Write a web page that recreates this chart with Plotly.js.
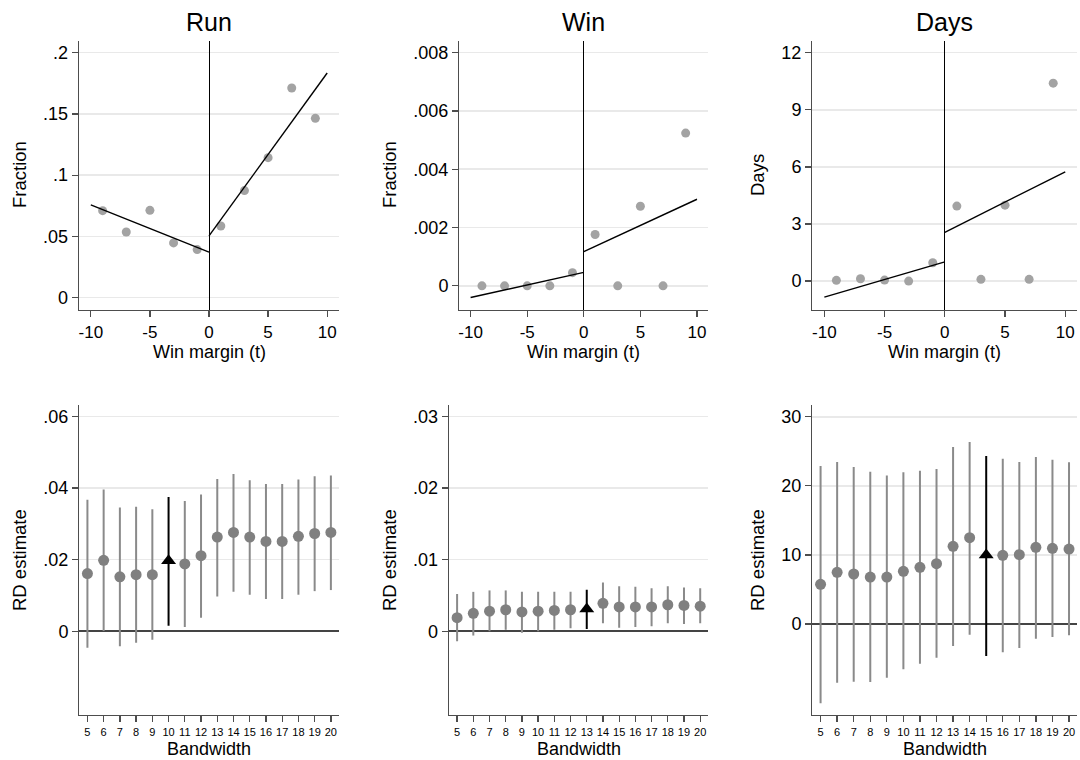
<!DOCTYPE html>
<html><head><meta charset="utf-8">
<script src="https://cdn.plot.ly/plotly-3.0.1.min.js"></script>
<style>html,body{margin:0;padding:0;background:#fff}#chart{width:1080px;height:760px}</style>
</head><body><div id="chart"></div>
<script>
// ---------- Top row: binned means by win margin ----------
const binX = [-9, -7, -5, -3, -1, 1, 3, 5, 7, 9];
const runBin  = [0.0710, 0.0536, 0.0713, 0.0447, 0.0392, 0.0585, 0.0874, 0.1143, 0.1712, 0.1464];
const winBin  = [0, 0, 0, 0, 0.00045, 0.00176, 0, 0.00273, 0, 0.00524];
const daysBin = [0.04, 0.12, 0.05, 0.0, 0.96, 3.94, 0.09, 3.99, 0.09, 10.40];

const fitLeftX  = [-10, 0];
const fitRightX = [0, 10];
const runFitLeft   = [0.0757, 0.0371];
const runFitRight  = [0.0504, 0.1834];
const winFitLeft   = [-0.00040, 0.00046];
const winFitRight  = [0.00117, 0.00297];
const daysFitLeft  = [-0.84, 1.01];
const daysFitRight = [2.56, 5.74];

const marginTicks = [-10, -5, 0, 5, 10];
const marginTickText = ['-10', '-5', '0', '5', '10'];
const runTicks = [0, 0.05, 0.1, 0.15, 0.2];
const runTickText = ['0', '.05', '.1', '.15', '.2'];
const winTicks = [0, 0.002, 0.004, 0.006, 0.008];
const winTickText = ['0', '.002', '.004', '.006', '.008'];
const daysTicks = [0, 3, 6, 9, 12];
const daysTickText = ['0', '3', '6', '9', '12'];

// ---------- Bottom row: RD estimates by bandwidth ----------
const bandwidth = [5, 6, 7, 8, 9, 10, 11, 12, 13, 14, 15, 16, 17, 18, 19, 20];
const runEst = [0.0161, 0.0198, 0.0152, 0.0158, 0.0158, 0.0197, 0.0188, 0.0211, 0.0263, 0.0276, 0.0263, 0.0251, 0.0251, 0.0265, 0.0273, 0.0276];
const runHi  = [0.0367, 0.0396, 0.0346, 0.0348, 0.0341, 0.0375, 0.0364, 0.0382, 0.0425, 0.0439, 0.0422, 0.0411, 0.0411, 0.0424, 0.0433, 0.0435];
const runLo  = [-0.0046, 0.0001, -0.0042, -0.0032, -0.0024, 0.0015, 0.0012, 0.0038, 0.0097, 0.0110, 0.0102, 0.0090, 0.0090, 0.0102, 0.0112, 0.0115];
const runOptimal = 10;

const winEst = [0.0019, 0.0025, 0.0028, 0.0030, 0.0027, 0.0028, 0.0029, 0.0030, 0.0031, 0.0039, 0.0034, 0.0034, 0.0034, 0.0037, 0.0036, 0.0035];
const winHi  = [0.0052, 0.0055, 0.0057, 0.0057, 0.0055, 0.0055, 0.0055, 0.0055, 0.0058, 0.0068, 0.0063, 0.0062, 0.0060, 0.0063, 0.0061, 0.0060];
const winLo  = [-0.0014, -0.0006, 0.0000, 0.0002, -0.0002, 0.0000, 0.0002, 0.0004, 0.0003, 0.0011, 0.0005, 0.0006, 0.0007, 0.0011, 0.0010, 0.0011];
const winOptimal = 13;

const daysEst = [5.74, 7.48, 7.24, 6.80, 6.80, 7.62, 8.20, 8.73, 11.24, 12.49, 10.0, 9.94, 10.03, 11.10, 10.95, 10.85];
const daysHi  = [22.87, 23.44, 22.72, 22.05, 21.51, 21.95, 22.19, 22.43, 25.62, 26.34, 24.31, 23.93, 23.44, 24.17, 23.78, 23.40];
const daysLo  = [-11.48, -8.49, -8.35, -8.39, -7.77, -6.56, -5.74, -4.87, -3.18, -1.54, -4.63, -4.10, -3.47, -2.12, -1.88, -1.64];
const daysOptimal = 15;

const runRdTicks = [0, 0.02, 0.04, 0.06];
const runRdTickText = ['0', '.02', '.04', '.06'];
const winRdTicks = [0, 0.01, 0.02, 0.03];
const winRdTickText = ['0', '.01', '.02', '.03'];
const daysRdTicks = [0, 10, 20, 30];
const daysRdTickText = ['0', '10', '20', '30'];

// ---------- styling ----------
const FONT = 'Liberation Sans, Arial, sans-serif';
const AXIS_COLOR = '#4d4d4d';
const GRID_COLOR = '#e9e9e9';
const BIN_COLOR = '#a3a3a3';
const EST_COLOR = '#808080';
const CI_COLOR = '#8a8a8a';

const traces = [];

function topPanel(ax, yv, fl, fr) {
  const xa = 'x' + ax, ya = 'y' + ax;
  traces.push({x: binX, y: yv, xaxis: xa, yaxis: ya, type: 'scatter', mode: 'markers',
    marker: {color: BIN_COLOR, size: 9}, showlegend: false, hoverinfo: 'x+y'});
  traces.push({x: fitLeftX, y: fl, xaxis: xa, yaxis: ya, type: 'scatter', mode: 'lines',
    line: {color: '#000', width: 1.4}, showlegend: false});
  traces.push({x: fitRightX, y: fr, xaxis: xa, yaxis: ya, type: 'scatter', mode: 'lines',
    line: {color: '#000', width: 1.4}, showlegend: false});
}
function bottomPanel(ax, est, lo, hi, opt) {
  const xa = 'x' + ax, ya = 'y' + ax;
  const gx = [], gy = [], gp = [], gm = [];
  const ox = [], oy = [], op = [], om = [];
  bandwidth.forEach((b, i) => {
    if (b === opt) { ox.push(b); oy.push(est[i]); op.push(hi[i] - est[i]); om.push(est[i] - lo[i]); }
    else { gx.push(b); gy.push(est[i]); gp.push(hi[i] - est[i]); gm.push(est[i] - lo[i]); }
  });
  traces.push({x: gx, y: gy, xaxis: xa, yaxis: ya, type: 'scatter', mode: 'markers',
    marker: {color: EST_COLOR, size: 11},
    error_y: {type: 'data', symmetric: false, array: gp, arrayminus: gm, width: 0, thickness: 2, color: CI_COLOR},
    showlegend: false});
  traces.push({x: ox, y: oy, xaxis: xa, yaxis: ya, type: 'scatter', mode: 'markers',
    marker: {color: '#000', size: 13, symbol: 'triangle-up'},
    error_y: {type: 'data', symmetric: false, array: op, arrayminus: om, width: 0, thickness: 2, color: '#000'},
    showlegend: false});
}

topPanel('', runBin, runFitLeft, runFitRight);
topPanel('2', winBin, winFitLeft, winFitRight);
topPanel('3', daysBin, daysFitLeft, daysFitRight);
bottomPanel('4', runEst, runLo, runHi, runOptimal);
bottomPanel('5', winEst, winLo, winHi, winOptimal);
bottomPanel('6', daysEst, daysLo, daysHi, daysOptimal);

const W = 1080, H = 760;
const dx = (a, b) => [a / W, b / W];
const dy = (top, bot) => [1 - bot / H, 1 - top / H];

function xTop(dom, anchor) {
  return {domain: dom, anchor: anchor, range: [-11, 11], showgrid: false,
    zeroline: true, zerolinecolor: '#000', zerolinewidth: 1,
    showline: true, linecolor: AXIS_COLOR, linewidth: 1.3,
    ticks: 'outside', ticklen: 6, tickwidth: 1.3, tickcolor: AXIS_COLOR,
    tickvals: marginTicks, ticktext: marginTickText,
    tickfont: {family: FONT, size: 17, color: '#000'}, fixedrange: true};
}
function yAxis(dom, anchor, range, tv, tt) {
  return {domain: dom, anchor: anchor, range: range, showgrid: true, gridcolor: GRID_COLOR, gridwidth: 1.5,
    zeroline: false, showline: true, linecolor: AXIS_COLOR, linewidth: 1.3,
    ticks: 'outside', ticklen: 6, tickwidth: 1.3, tickcolor: AXIS_COLOR,
    tickvals: tv, ticktext: tt, tickfont: {family: FONT, size: 18, color: '#000'}, fixedrange: true};
}
function yBottom(dom, anchor, range, tv, tt) {
  const a = yAxis(dom, anchor, range, tv, tt);
  a.zeroline = true; a.zerolinecolor = '#444'; a.zerolinewidth = 1.6;
  return a;
}
function xBottom(dom, anchor) {
  return {domain: dom, anchor: anchor, range: [4.5, 20.5], showgrid: false, zeroline: false,
    showline: true, linecolor: AXIS_COLOR, linewidth: 1.3,
    ticks: 'outside', ticklen: 6, tickwidth: 1.3, tickcolor: AXIS_COLOR,
    tickvals: bandwidth, ticktext: bandwidth.map(String),
    tickfont: {family: FONT, size: 11, color: '#000'}, fixedrange: true};
}

const topY = dy(40.7, 310);
const botY = dy(405, 715);

const layout = {
  width: W, height: H, margin: {l: 0, r: 0, t: 0, b: 0},
  paper_bgcolor: '#fff', plot_bgcolor: '#fff', showlegend: false,
  font: {family: FONT, color: '#000'},
  xaxis:  xTop(dx(79, 339), 'y'),
  yaxis:  yAxis(topY, 'x', [-0.0101, 0.2098], runTicks, runTickText),
  xaxis2: xTop(dx(459.3, 708.3), 'y2'),
  yaxis2: yAxis(topY, 'x2', [-0.00083, 0.00841], winTicks, winTickText),
  xaxis3: xTop(dx(812.3, 1077.3), 'y3'),
  yaxis3: yAxis(topY, 'x3', [-1.52, 12.63], daysTicks, daysTickText),
  xaxis4: xBottom(dx(79.3, 339), 'y4'),
  yaxis4: yBottom(botY, 'x4', [-0.0234, 0.0632], runRdTicks, runRdTickText),
  xaxis5: xBottom(dx(449, 708.3), 'y5'),
  yaxis5: yBottom(botY, 'x5', [-0.0117, 0.0316], winRdTicks, winRdTickText),
  xaxis6: xBottom(dx(812.3, 1077.3), 'y6'),
  yaxis6: yBottom(botY, 'x6', [-13.17, 31.7], daysRdTicks, daysRdTickText),
  annotations: []
};

function ann(text, xpx, ypx, size, angle) {
  layout.annotations.push({text: text, x: xpx / W, y: 1 - ypx / H, xref: 'paper', yref: 'paper',
    xanchor: 'center', yanchor: 'middle', showarrow: false, textangle: angle || 0,
    font: {family: FONT, size: size, color: '#000'}});
}
ann('Run', 209, 22, 25);
ann('Win', 583.8, 22, 25);
ann('Days', 944.8, 22, 25);
ann('Win margin (t)', 209, 352, 18);
ann('Win margin (t)', 583.8, 352, 18);
ann('Win margin (t)', 944.8, 352, 18);
ann('Fraction', 19, 175, 18.5, -90);
ann('Fraction', 389, 175, 18.5, -90);
ann('Days', 757, 175, 18.5, -90);
ann('Bandwidth', 209, 749, 18);
ann('Bandwidth', 578.7, 749, 18);
ann('Bandwidth', 944.8, 749, 18);
ann('RD estimate', 19, 560, 18.5, -90);
ann('RD estimate', 389, 560, 18.5, -90);
ann('RD estimate', 757, 560, 18.5, -90);

Plotly.newPlot('chart', traces, layout, {displayModeBar: false, staticPlot: true});
</script></body></html>
